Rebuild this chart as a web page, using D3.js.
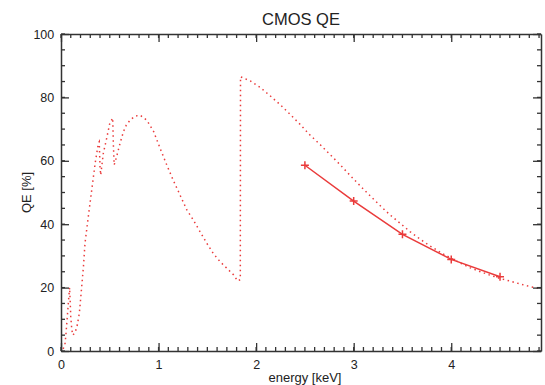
<!DOCTYPE html>
<html>
<head>
<meta charset="utf-8">
<script src="https://cdn.jsdelivr.net/npm/d3@7"></script>
<style>
  body { margin: 0; background: #fff; }
  svg { display: block; font-family: "Liberation Sans", Arial, sans-serif; }
</style>
</head>
<body>
<div id="chart"></div>
<script>
// model QE curve (dotted)
const modelEnergy = [0, 0.001, 0.02, 0.04, 0.05, 0.06, 0.07, 0.08, 0.088, 0.095, 0.10, 0.11, 0.12,
  0.144, 0.167, 0.188, 0.20, 0.215, 0.23, 0.246, 0.28, 0.315, 0.35, 0.383, 0.392, 0.40, 0.407,
  0.434, 0.468, 0.50, 0.53, 0.537, 0.545, 0.57, 0.605, 0.64, 0.67, 0.71, 0.76, 0.81, 0.88, 0.95,
  1.015, 1.084, 1.15, 1.22, 1.29, 1.357, 1.426, 1.494, 1.56, 1.63, 1.70, 1.77, 1.81, 1.838, 1.84,
  1.94, 2.04, 2.14, 2.25, 2.35, 2.45, 2.55, 2.66, 2.76, 2.86, 2.96, 3.07, 3.17, 3.27, 3.37, 3.48,
  3.58, 3.68, 3.78, 3.89, 3.99, 4.09, 4.19, 4.30, 4.40, 4.50, 4.61, 4.71, 4.81, 4.92];
const modelQE = [100, 0, 0.5, 2, 5, 9, 13, 17, 20, 15, 11, 7, 5,
  5.7, 8.2, 11.9, 16, 21.3, 26.6, 34, 42.4, 50.8, 59.2, 65.5, 66, 58, 55.5,
  62.4, 67.1, 71.8, 73.5, 65, 58.7, 61.3, 65.5, 69.2, 71.3, 72.9, 74.1, 74.4, 72.8, 69.2,
  64, 58.7, 53.9, 49.2, 44.5, 41.3, 37.6, 34, 30.8, 28.2, 26.1, 24, 22.1, 22.5, 86.5,
  85.2, 83.2, 80.6, 77.6, 74.6, 71.5, 68.2, 65.0, 61.9, 58.8, 55.5, 52.0, 48.9, 45.9, 43.0, 40.2,
  37.6, 35.3, 33.2, 31.1, 29.4, 27.8, 26.3, 25.0, 23.9, 22.9, 22.0, 21.1, 20.3, 19.6];

// measured points (solid line with + markers)
const measEnergy = [2.5, 3.0, 3.5, 4.0, 4.5];
const measQE = [58.6, 47.3, 36.8, 28.9, 23.4];

const xTicks = [0, 1, 2, 3, 4];
const yTicks = [0, 20, 40, 60, 80, 100];

const W = 545, H = 385;
const margin = { top: 34, right: 4, bottom: 34, left: 61 };
const red = "#ea3b3b", axisColor = "#333";

const svg = d3.select("#chart").append("svg")
  .attr("width", W).attr("height", H);

const x = d3.scaleLinear().domain([0, 4.92]).range([margin.left, W - margin.right]);
const y = d3.scaleLinear().domain([0, 100]).range([H - margin.bottom, margin.top]);

svg.append("clipPath").attr("id", "clip")
  .append("rect")
  .attr("x", margin.left).attr("y", margin.top)
  .attr("width", W - margin.right - margin.left)
  .attr("height", H - margin.bottom - margin.top);

const model = modelEnergy.map((e, i) => [e, modelQE[i]]);
const meas = measEnergy.map((e, i) => [e, measQE[i]]);

const line = d3.line().x(d => x(d[0])).y(d => y(d[1]));

svg.append("path")
  .datum(model)
  .attr("clip-path", "url(#clip)")
  .attr("fill", "none")
  .attr("stroke", red)
  .attr("stroke-width", 1.5)
  .attr("stroke-dasharray", "1.5,3.5")
  .attr("d", line);

svg.append("path")
  .datum(meas)
  .attr("fill", "none")
  .attr("stroke", red)
  .attr("stroke-width", 1.5)
  .attr("d", line);

svg.append("g")
  .selectAll("path")
  .data(meas)
  .join("path")
  .attr("d", d => `M${x(d[0]) - 4},${y(d[1])}h8M${x(d[0])},${y(d[1]) - 4}v8`)
  .attr("stroke", red)
  .attr("stroke-width", 1.5);

// axes: ticks point inward on all four sides
const xMinor = d3.range(0, 50).map(i => i / 10).filter(v => v <= 4.92);
const yMinor = d3.range(0, 101, 5);

function drawX(g, top) {
  g.attr("transform", `translate(0,${top ? y(100) : y(0)})`)
    .call((top ? d3.axisTop(x) : d3.axisBottom(x)).tickValues(xTicks).tickSize(-8).tickSizeOuter(0)
      .tickFormat(top ? "" : d3.format("d")));
  g.selectAll(".minor").data(xMinor).join("line")
    .attr("class", "minor")
    .attr("x1", d => x(d)).attr("x2", d => x(d))
    .attr("y1", 0).attr("y2", top ? 4 : -4);
}

function drawY(g, right) {
  g.attr("transform", `translate(${right ? x.range()[1] : x(0)},0)`)
    .call((right ? d3.axisRight(y) : d3.axisLeft(y)).tickValues(yTicks).tickSize(-8).tickSizeOuter(0)
      .tickFormat(right ? "" : d3.format("d")));
  g.selectAll(".minor").data(yMinor).join("line")
    .attr("class", "minor")
    .attr("y1", d => y(d)).attr("y2", d => y(d))
    .attr("x1", 0).attr("x2", right ? -4 : 4);
}

const axes = [
  svg.append("g").call(drawX, false),
  svg.append("g").call(drawX, true),
  svg.append("g").call(drawY, false),
  svg.append("g").call(drawY, true)
];
axes.forEach(g => {
  g.selectAll("path.domain").attr("stroke", axisColor).attr("stroke-width", 1.5);
  g.selectAll("line").attr("stroke", axisColor).attr("stroke-width", 1.3);
  g.selectAll("text").attr("fill", "#222").attr("font-size", 12.5)
    .attr("font-family", "Liberation Sans, Arial, sans-serif");
});
axes[0].selectAll(".tick text").attr("dy", "1.2em");
axes[2].selectAll(".tick text").attr("dx", "-0.3em");

svg.append("text")
  .attr("x", (x.range()[0] + x.range()[1]) / 2).attr("y", 25)
  .attr("text-anchor", "middle").attr("font-size", 16.5).attr("fill", "#222")
  .text("CMOS QE");

svg.append("text")
  .attr("x", (x.range()[0] + x.range()[1]) / 2 + 4).attr("y", 382)
  .attr("text-anchor", "middle").attr("font-size", 13).attr("fill", "#222")
  .text("energy [keV]");

svg.append("text")
  .attr("transform", `translate(31,${(y(0) + y(100)) / 2}) rotate(-90)`)
  .attr("text-anchor", "middle").attr("font-size", 13).attr("fill", "#222")
  .text("QE [%]");
</script>
</body>
</html>
